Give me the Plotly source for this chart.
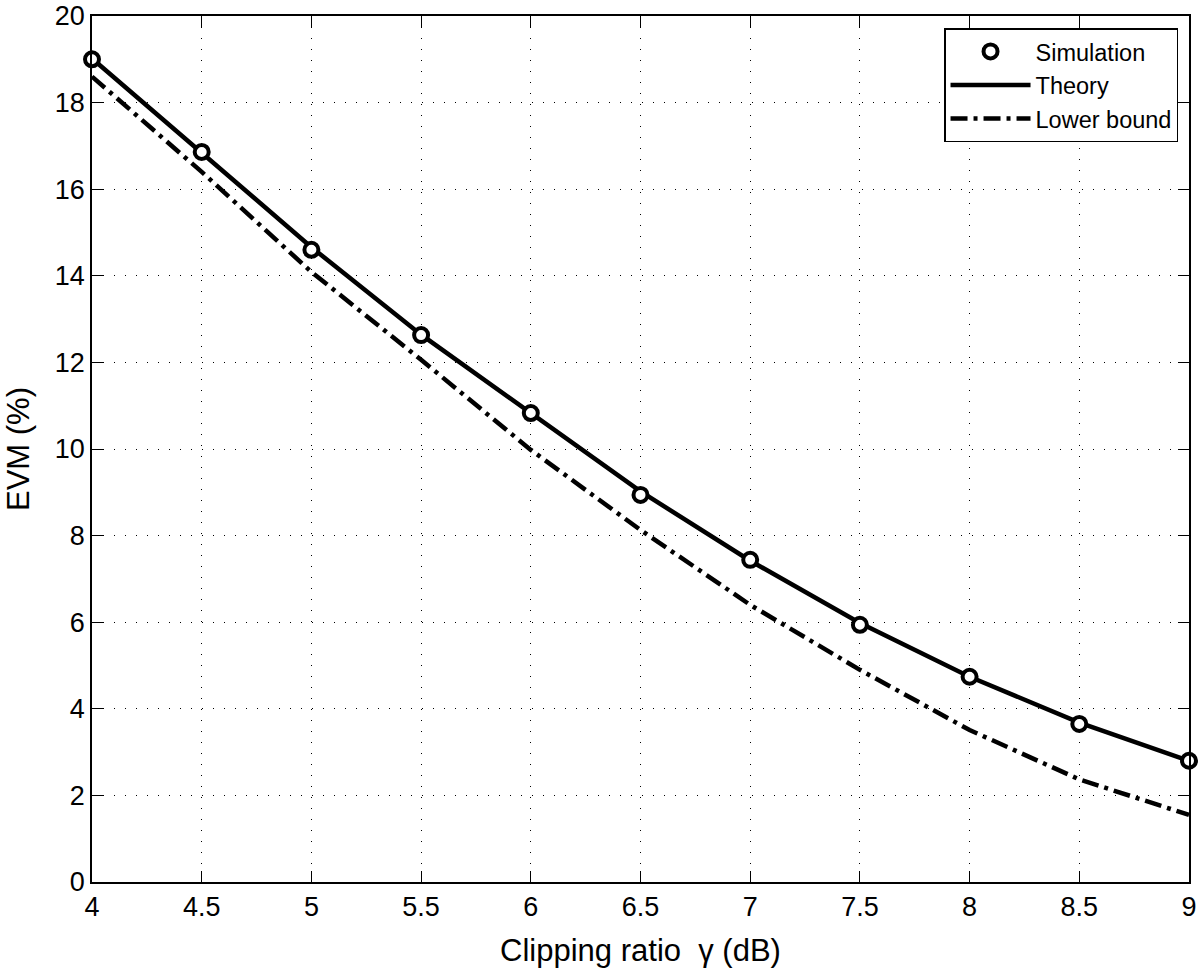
import plotly.graph_objects as go

clip_ratio_db = [4, 4.5, 5, 5.5, 6, 6.5, 7, 7.5, 8, 8.5, 9]
evm_simulation = [19.0, 16.86, 14.60, 12.63, 10.83, 8.94, 7.44, 5.94, 4.74, 3.65, 2.80]
evm_theory = [19.02, 16.84, 14.66, 12.64, 10.82, 9.02, 7.42, 5.98, 4.74, 3.68, 2.80]
evm_lower = [18.60, 16.40, 14.09, 12.06, 9.98, 8.13, 6.40, 4.90, 3.51, 2.37, 1.55]

x_ticks = [4, 4.5, 5, 5.5, 6, 6.5, 7, 7.5, 8, 8.5, 9]
x_tick_labels = ["4", "4.5", "5", "5.5", "6", "6.5", "7", "7.5", "8", "8.5", "9"]
y_ticks = [0, 2, 4, 6, 8, 10, 12, 14, 16, 18, 20]

FONT = "Liberation Sans, Arial, Helvetica, sans-serif"

fig = go.Figure()
fig.add_trace(go.Scatter(
    x=clip_ratio_db, y=evm_theory, mode="lines", name="Theory",
    line=dict(color="black", width=4.5), legendrank=2))
fig.add_trace(go.Scatter(
    x=clip_ratio_db, y=evm_lower, mode="lines", name="Lower bound",
    line=dict(color="black", width=4.5, dash="17px,6px,4px,6px"), legendrank=3))
fig.add_trace(go.Scatter(
    x=clip_ratio_db, y=evm_simulation, mode="markers", name="Simulation",
    marker=dict(symbol="circle", size=14, color="white",
                line=dict(color="black", width=4)),
    cliponaxis=False, legendrank=1))

axis_common = dict(
    showline=True, linecolor="black", linewidth=1.5, mirror="ticks",
    ticks="inside", ticklen=11, tickwidth=1.2, tickcolor="black",
    showgrid=True, gridcolor="black", gridwidth=1, griddash="1px,10px",
    zeroline=False, automargin=False,
    tickfont=dict(family=FONT, size=27, color="black"),
)

fig.update_xaxes(
    range=[4, 9], tickvals=x_ticks, ticktext=x_tick_labels,
    title=dict(text="Clipping ratio  γ (dB)", font=dict(family=FONT, size=31, color="black"),
               standoff=18),
    **axis_common)
fig.update_yaxes(
    range=[0, 20], tickvals=y_ticks,
    title=dict(text="EVM (%)", font=dict(family=FONT, size=31, color="black"),
               standoff=16),
    **axis_common)

fig.update_layout(
    width=1200, height=973,
    margin=dict(l=92, r=11, t=16, b=91),
    paper_bgcolor="white", plot_bgcolor="white",
    font=dict(family=FONT, color="black"),
    legend=dict(
        x=0.99, y=0.986, xanchor="right", yanchor="top",
        bgcolor="white", bordercolor="black", borderwidth=1.5,
        font=dict(family=FONT, size=23.5, color="black"),
        itemwidth=80, tracegroupgap=0,
    ),
    showlegend=True,
)

fig.write_html(
    "out.html",
    config={"displayModeBar": False},
    post_script="document.body.style.margin='0';document.body.style.overflow='hidden';",
)
